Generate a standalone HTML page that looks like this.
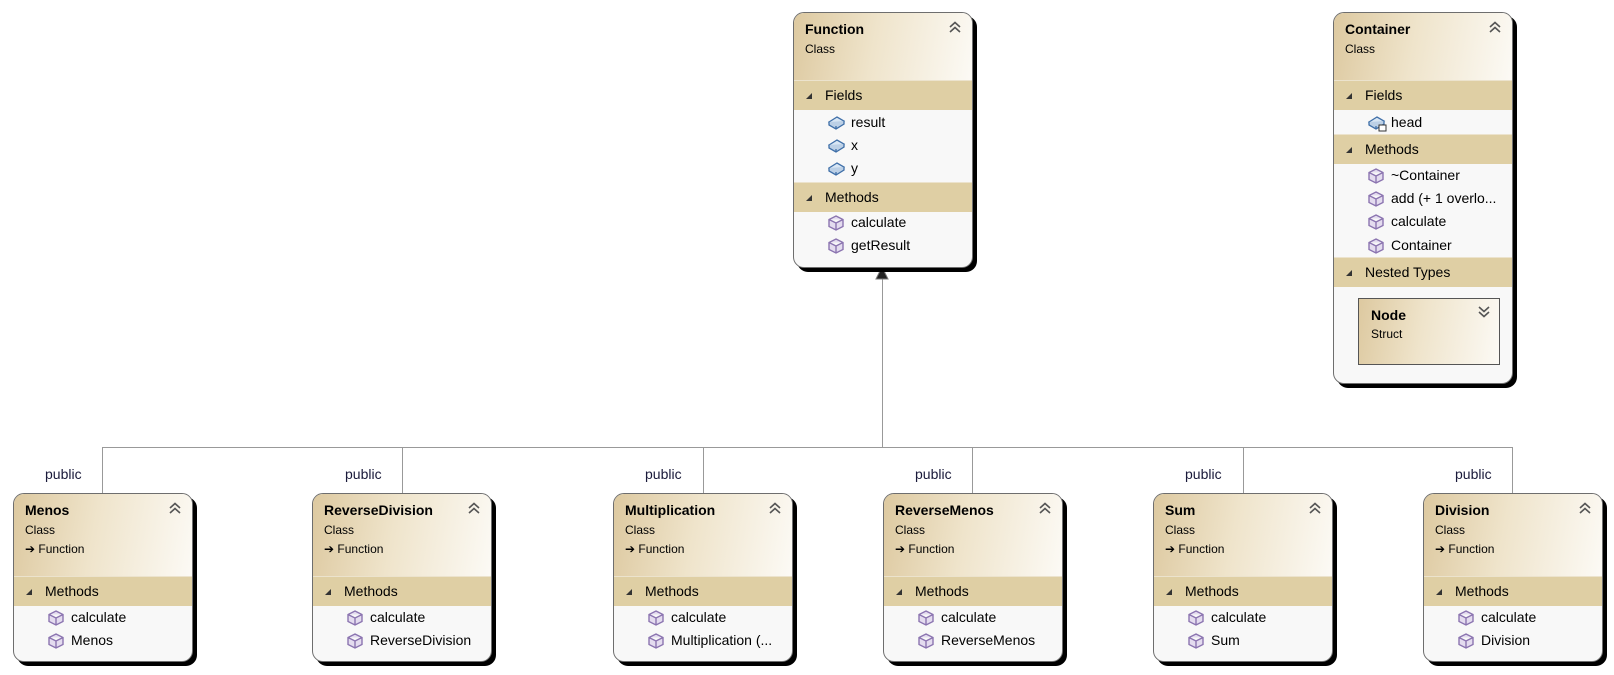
<!DOCTYPE html>
<html><head><meta charset="utf-8"><style>
body{margin:0;width:1614px;height:675px;background:#fff;position:relative;overflow:hidden;font-family:"Liberation Sans",sans-serif;color:#000}
.box{position:absolute;width:180px;border:1px solid #6e6e6e;border-radius:11px;background:#f8f8f8;box-shadow:4px 4px 0 #000;overflow:hidden;box-sizing:border-box}
.hd{position:absolute;left:0;top:0;right:0;background:linear-gradient(100deg,#ddc9a0 0%,#efe4cb 45%,#fcfaf5 100%)}
.nm{position:absolute;left:11px;top:8px;font-weight:bold;font-size:14px}
.cl{position:absolute;left:11px;top:29px;font-size:12px}
.fn{position:absolute;left:11px;top:48px;font-size:12px}
.chev{position:absolute;right:11px;top:8px}
.band{position:absolute;left:0;right:0;height:29px;background:#dfcfa4;border-top:1px solid #ece3cd}
.band span{position:absolute;left:31px;top:6px;font-size:14px}
.band i{position:absolute;left:12px;top:12px;width:0;height:0;border-left:6px solid transparent;border-bottom:6px solid #333}
.row{position:absolute;left:57px;font-size:14px;white-space:nowrap}
.ic{position:absolute;left:-23px;top:1px}
.pub{position:absolute;font-size:14px;color:#1a1a3a}
.ln{position:absolute;background:#999}
</style></head><body>
<svg width="0" height="0" style="position:absolute"><defs>
<g id="m"><path d="M8 1 L15 4.5 L15 11.5 L8 15 L1 11.5 L1 4.5 Z M1 4.5 L8 8 L15 4.5 M8 8 L8 15" fill="#e4dcef" stroke="#8b74b0" stroke-width="1.4"/></g>
<g id="f"><path d="M1 7 L9 2 L16 6 L8 11 Z" fill="#d8e6f4" stroke="#3f6fa8" stroke-width="1.3"/><path d="M1 7 L1 10 L8 14 L16 9 L16 6 M8 11 L8 14" fill="#bcd0e6" stroke="#3f6fa8" stroke-width="1.3"/></g>
<g id="up"><path d="M1 6 L6 1.5 L11 6 M1 11 L6 6.5 L11 11" fill="none" stroke="#555" stroke-width="1.6"/></g>
<g id="dn"><path d="M1 1 L6 5.5 L11 1 M1 6 L6 10.5 L11 6" fill="none" stroke="#555" stroke-width="1.6"/></g>
</defs></svg>

<!-- connectors -->
<div class="ln" style="left:882px;top:278px;width:1px;height:170px"></div>
<svg style="position:absolute;left:875px;top:266px" width="16" height="14"><path d="M7 1 L13 13 L1 13 Z" fill="#222" stroke="#777"/></svg>
<div class="ln" style="left:102px;top:447px;width:1411px;height:1px"></div>
<div class="ln" style="left:102px;top:447px;width:1px;height:46px"></div>
<div class="ln" style="left:402px;top:447px;width:1px;height:46px"></div>
<div class="ln" style="left:703px;top:447px;width:1px;height:46px"></div>
<div class="ln" style="left:972px;top:447px;width:1px;height:46px"></div>
<div class="ln" style="left:1243px;top:447px;width:1px;height:46px"></div>
<div class="ln" style="left:1512px;top:447px;width:1px;height:46px"></div>
<div class="pub" style="left:45px;top:466px">public</div>
<div class="pub" style="left:345px;top:466px">public</div>
<div class="pub" style="left:645px;top:466px">public</div>
<div class="pub" style="left:915px;top:466px">public</div>
<div class="pub" style="left:1185px;top:466px">public</div>
<div class="pub" style="left:1455px;top:466px">public</div>

<!-- Function -->
<div class="box" style="left:793px;top:12px;height:256px">
<div class="hd" style="height:67px"><div class="nm">Function</div><div class="cl">Class</div><svg class="chev" width="12" height="12"><use href="#up"/></svg></div>
<div class="band" style="top:67px"><i></i><span>Fields</span></div>
<div class="row" style="top:101px"><svg class="ic" width="17" height="16"><use href="#f"/></svg>result</div>
<div class="row" style="top:124px"><svg class="ic" width="17" height="16"><use href="#f"/></svg>x</div>
<div class="row" style="top:147px"><svg class="ic" width="17" height="16"><use href="#f"/></svg>y</div>
<div class="band" style="top:169px"><i></i><span>Methods</span></div>
<div class="row" style="top:201px"><svg class="ic" width="17" height="16"><use href="#m"/></svg>calculate</div>
<div class="row" style="top:224px"><svg class="ic" width="17" height="16"><use href="#m"/></svg>getResult</div>
</div>

<!-- Container -->
<div class="box" style="left:1333px;top:12px;height:372px">
<div class="hd" style="height:67px"><div class="nm">Container</div><div class="cl">Class</div><svg class="chev" width="12" height="12"><use href="#up"/></svg></div>
<div class="band" style="top:67px"><i></i><span>Fields</span></div>
<div class="row" style="top:101px"><svg class="ic" width="19" height="18"><use href="#f"/><rect x="11" y="10" width="7" height="6" fill="#fff" stroke="#333"/></svg>head</div>
<div class="band" style="top:121px"><i></i><span>Methods</span></div>
<div class="row" style="top:154px"><svg class="ic" width="17" height="16"><use href="#m"/></svg>~Container</div>
<div class="row" style="top:177px"><svg class="ic" width="17" height="16"><use href="#m"/></svg>add (+ 1 overlo...</div>
<div class="row" style="top:200px"><svg class="ic" width="17" height="16"><use href="#m"/></svg>calculate</div>
<div class="row" style="top:224px"><svg class="ic" width="17" height="16"><use href="#m"/></svg>Container</div>
<div class="band" style="top:244px"><i></i><span>Nested Types</span></div>
<div style="position:absolute;left:24px;top:285px;width:142px;height:67px;box-sizing:border-box;border:1px solid #555;background:linear-gradient(100deg,#ddc9a0 0%,#efe4cb 45%,#fcfaf5 100%)">
<div class="nm" style="left:12px;top:8px">Node</div><div class="cl" style="left:12px;top:28px">Struct</div><svg class="chev" style="right:9px;top:7px" width="12" height="12"><use href="#dn"/></svg></div>
</div>

<!-- bottom boxes -->
<div class="box" style="left:13px;top:493px;height:169px">
<div class="hd" style="height:82px"><div class="nm">Menos</div><div class="cl">Class</div><div class="fn">➔ Function</div><svg class="chev" width="12" height="12"><use href="#up"/></svg></div>
<div class="band" style="top:82px"><i></i><span>Methods</span></div>
<div class="row" style="top:115px"><svg class="ic" width="17" height="16"><use href="#m"/></svg>calculate</div>
<div class="row" style="top:138px"><svg class="ic" width="17" height="16"><use href="#m"/></svg>Menos</div>
</div>
<div class="box" style="left:312px;top:493px;height:169px">
<div class="hd" style="height:82px"><div class="nm">ReverseDivision</div><div class="cl">Class</div><div class="fn">➔ Function</div><svg class="chev" width="12" height="12"><use href="#up"/></svg></div>
<div class="band" style="top:82px"><i></i><span>Methods</span></div>
<div class="row" style="top:115px"><svg class="ic" width="17" height="16"><use href="#m"/></svg>calculate</div>
<div class="row" style="top:138px"><svg class="ic" width="17" height="16"><use href="#m"/></svg>ReverseDivision</div>
</div>
<div class="box" style="left:613px;top:493px;height:169px">
<div class="hd" style="height:82px"><div class="nm">Multiplication</div><div class="cl">Class</div><div class="fn">➔ Function</div><svg class="chev" width="12" height="12"><use href="#up"/></svg></div>
<div class="band" style="top:82px"><i></i><span>Methods</span></div>
<div class="row" style="top:115px"><svg class="ic" width="17" height="16"><use href="#m"/></svg>calculate</div>
<div class="row" style="top:138px"><svg class="ic" width="17" height="16"><use href="#m"/></svg>Multiplication (...</div>
</div>
<div class="box" style="left:883px;top:493px;height:169px">
<div class="hd" style="height:82px"><div class="nm">ReverseMenos</div><div class="cl">Class</div><div class="fn">➔ Function</div><svg class="chev" width="12" height="12"><use href="#up"/></svg></div>
<div class="band" style="top:82px"><i></i><span>Methods</span></div>
<div class="row" style="top:115px"><svg class="ic" width="17" height="16"><use href="#m"/></svg>calculate</div>
<div class="row" style="top:138px"><svg class="ic" width="17" height="16"><use href="#m"/></svg>ReverseMenos</div>
</div>
<div class="box" style="left:1153px;top:493px;height:169px">
<div class="hd" style="height:82px"><div class="nm">Sum</div><div class="cl">Class</div><div class="fn">➔ Function</div><svg class="chev" width="12" height="12"><use href="#up"/></svg></div>
<div class="band" style="top:82px"><i></i><span>Methods</span></div>
<div class="row" style="top:115px"><svg class="ic" width="17" height="16"><use href="#m"/></svg>calculate</div>
<div class="row" style="top:138px"><svg class="ic" width="17" height="16"><use href="#m"/></svg>Sum</div>
</div>
<div class="box" style="left:1423px;top:493px;height:169px">
<div class="hd" style="height:82px"><div class="nm">Division</div><div class="cl">Class</div><div class="fn">➔ Function</div><svg class="chev" width="12" height="12"><use href="#up"/></svg></div>
<div class="band" style="top:82px"><i></i><span>Methods</span></div>
<div class="row" style="top:115px"><svg class="ic" width="17" height="16"><use href="#m"/></svg>calculate</div>
<div class="row" style="top:138px"><svg class="ic" width="17" height="16"><use href="#m"/></svg>Division</div>
</div>
</body></html>
